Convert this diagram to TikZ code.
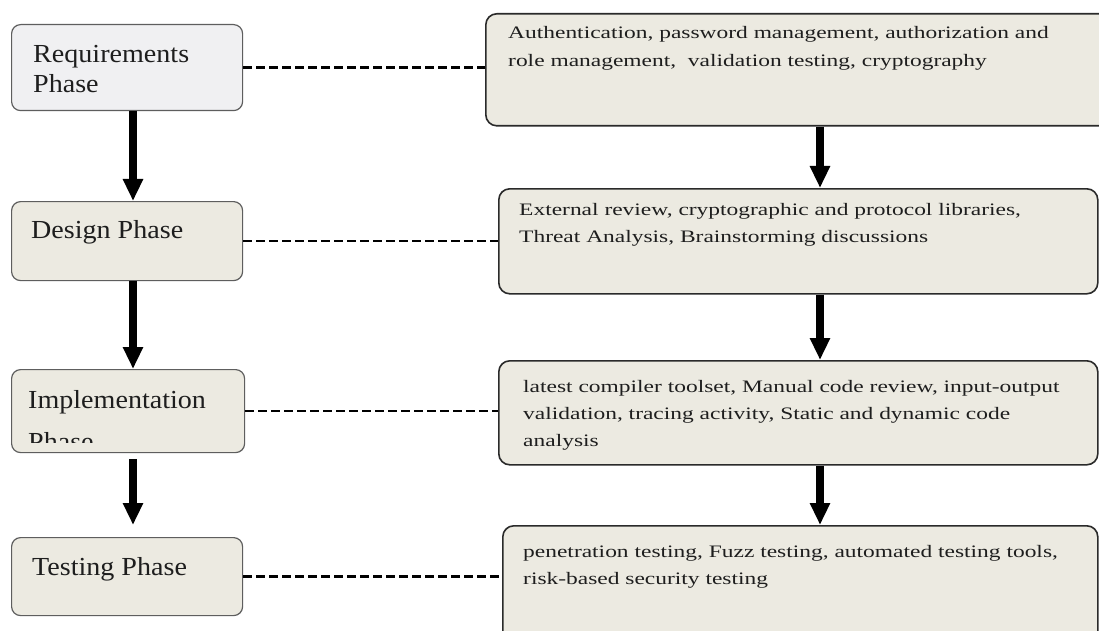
\documentclass[tikz,border=0pt]{standalone}
\usepackage{fontspec}
\setmainfont{Liberation Serif}
\newfontfamily\leftfont[FakeStretch=1.08]{Liberation Serif}
\newfontfamily\rightfont[FakeStretch=1.34]{Liberation Serif}
\usetikzlibrary{arrows.meta}
\definecolor{reqfill}{HTML}{F0F0F2}
\definecolor{boxfill}{HTML}{ECEAE1}
\definecolor{lborder}{HTML}{5E5E5E}
\definecolor{rborder}{HTML}{2A2A2A}
\definecolor{txt}{HTML}{1E1E1E}
\begin{document}
\begin{tikzpicture}[x=1pt,y=-1pt,
  lbox/.style={draw=lborder, line width=1.2pt, fill=boxfill, rounded corners=9pt, anchor=north west, inner sep=0pt},
  rbox/.style={draw=rborder, line width=1.6pt, fill=boxfill, rounded corners=11pt, anchor=north west, inner sep=0pt},
  ltext/.style={anchor=base west, inner sep=0pt, font=\leftfont\fontsize{26}{30}\selectfont, text=txt},
  rtext/.style={anchor=base west, inner sep=0pt, font=\rightfont\fontsize{17.5}{27}\selectfont, text=txt},
  flow/.style={line width=8pt, -{Triangle[width=19pt,length=22pt]}},
  link/.style={line width=2.6pt, dash pattern=on 9pt off 4pt}
]
\useasboundingbox (0,0) rectangle (1099,631);
\clip (0,0) rectangle (1099,631);
\fill[white] (0,0) rectangle (1099,631);

% left phase boxes
\node[lbox, fill=reqfill, minimum width=231pt, minimum height=86pt] (req) at (11,24) {};
\node[lbox, minimum width=231pt, minimum height=79pt] (des) at (11,201) {};
\node[lbox, minimum width=233pt, minimum height=83pt] (imp) at (11,369) {};
\node[lbox, minimum width=231pt, minimum height=78pt] (tst) at (11,537) {};

% right activity boxes
\node[rbox, minimum width=630pt, minimum height=112pt] (b1) at (485,13) {};
\node[rbox, minimum width=599pt, minimum height=105pt] (b2) at (498,188) {};
\node[rbox, minimum width=599pt, minimum height=104pt] (b3) at (498,360) {};
\node[rbox, minimum width=595pt, minimum height=120pt] (b4) at (502,525) {};

% left texts
\node[ltext] (reqA) at (33,63) {Requirements};
\node[ltext] (reqB) at (33,93) {Phase};
\node[ltext] (desA) at (31,238) {Design Phase};
\node[ltext] (impA) at (28,408) {Implementation};
\begin{scope}
\clip (11,369) rectangle (244,442);
\node[ltext] (impB) at (28,450) {Phase};
\end{scope}
\node[ltext] (tstA) at (32,575) {Testing Phase};

% right texts
\node[rtext] (b1A) at (508,39) {Authentication, password management, authorization and};
\node[rtext] (b1B) at (508,67) {role management,\ \ validation testing, cryptography};
\node[rtext] (b2A) at (519,215) {External review, cryptographic and protocol libraries,};
\node[rtext] (b2B) at (519,242) {Threat Analysis, Brainstorming discussions};
\node[rtext] (b3A) at (523,392) {latest compiler toolset, Manual code review, input-output};
\node[rtext] (b3B) at (523,419) {validation, tracing activity, Static and dynamic code};
\node[rtext] (b3C) at (523,446) {analysis};
\node[rtext] (b4A) at (523,557) {penetration testing, Fuzz testing, automated testing tools,};
\node[rtext] (b4B) at (523,584) {risk-based security testing};

% arrow axes
\coordinate (lx) at (133,0);
\coordinate (rx) at (820,0);

% flow arrows
\draw[flow] (req.south -| lx) -- (des.north -| lx);
\draw[flow] (des.south -| lx) -- (imp.north -| lx);
\draw[flow, shorten <=6pt, shorten >=12pt] (imp.south -| lx) -- (tst.north -| lx);
\draw[flow] (b1.south -| rx) -- (b2.north -| rx);
\draw[flow] (b2.south -| rx) -- (b3.north -| rx);
\draw[flow] (b3.south -| rx) -- (b4.north -| rx);

% dashed links
\draw[link] (req.east) -- (req.east -| b1.west);
\draw[link] (des.east) -- (des.east -| b2.west);
\draw[link] (imp.east) -- (imp.east -| b3.west);
\draw[link] (tst.east) -- (tst.east -| b4.west);
\end{tikzpicture}
\end{document}
